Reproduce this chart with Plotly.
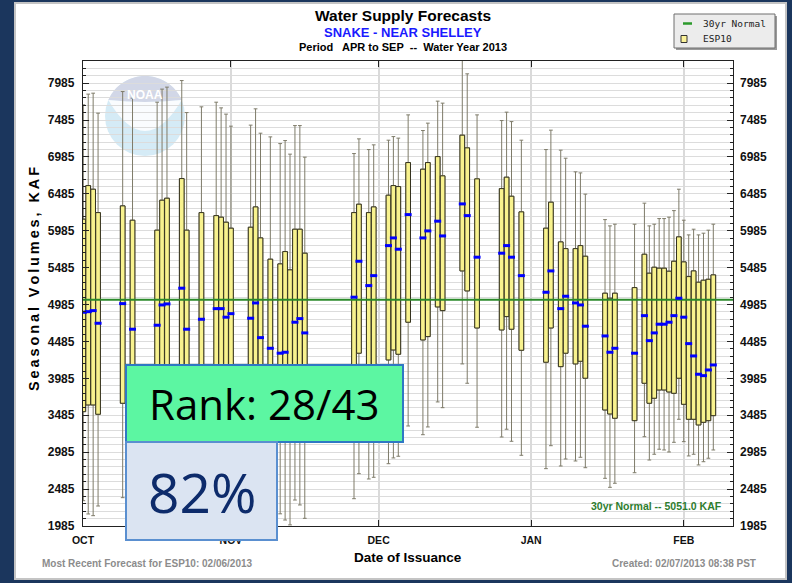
import math
import plotly.graph_objects as go

# ---------------------------------------------------------------
# ESP10 seasonal volume forecasts (APR-SEP, KAF) by issue date
# ---------------------------------------------------------------
issue_dates = [
    "2012-10-02", "2012-10-03", "2012-10-04", "2012-10-05", "2012-10-10", "2012-10-12",
    "2012-10-17", "2012-10-18", "2012-10-19", "2012-10-22", "2012-10-23", "2012-10-26",
    "2012-10-29", "2012-10-30", "2012-10-31",
    "2012-11-01", "2012-11-05", "2012-11-06", "2012-11-07", "2012-11-09", "2012-11-11",
    "2012-11-12", "2012-11-13", "2012-11-14", "2012-11-15", "2012-11-16", "2012-11-26",
    "2012-11-27", "2012-11-29", "2012-11-30",
    "2012-12-03", "2012-12-04", "2012-12-05", "2012-12-07", "2012-12-10", "2012-12-11",
    "2012-12-13", "2012-12-14", "2012-12-18", "2012-12-19", "2012-12-21", "2012-12-26",
    "2012-12-27", "2012-12-28", "2012-12-30",
    "2013-01-04", "2013-01-05", "2013-01-07", "2013-01-08", "2013-01-10", "2013-01-11",
    "2013-01-12", "2013-01-16", "2013-01-17", "2013-01-18", "2013-01-22", "2013-01-24",
    "2013-01-25", "2013-01-26", "2013-01-27", "2013-01-28", "2013-01-29", "2013-01-30",
    "2013-01-31",
    "2013-02-01", "2013-02-02", "2013-02-03", "2013-02-04", "2013-02-05", "2013-02-06",
    "2013-02-07",
]

esp_max = [
    7691, 7836, 7849, 7578, 7871, 7782, 7727, 7904, 7931, 8020, 7586, 7664, 7727, 7650, 7565,
    7402, 7416, 7637, 7307, 7257, 7166, 7207, 7023, 7410, 7410, 6982, 7031, 7230, 7085, 7149,
    7212, 7261, 7240, 7555, 7343, 7443, 7741, 7714, 8450, 8111, 7555, 7478, 7592, 7464, 7212,
    7085, 7348, 7077, 6968, 6783, 6769, 6481, 6136, 6051, 6074, 6074, 6359, 6051, 6074, 6150,
    6150, 6169, 6258, 6548,
    6128, 5929, 6006, 5929, 5952, 5993, 6074,
]

esp_q3 = [
    6142, 6597, 6548, 6231, 6322, 6128, 5993, 6399, 6426, 6692, 5993, 6231, 6190, 6169, 6101,
    6020, 6033, 6308, 5888, 5600, 5536, 5703, 5455, 6006, 6006, 5681, 6231, 6345, 6231, 6308,
    6467, 6597, 6584, 6909, 6819, 6909, 6990, 6729, 7280, 7108, 6688, 6556, 6711, 6453, 6241,
    6020, 6372, 5834, 5743, 5743, 5784, 5640, 5139, 5071, 5139, 5215, 5667, 5410, 5491, 5478,
    5478, 5437, 5572, 5902,
    5563, 5364, 5441, 5288, 5315, 5328, 5387,
]

esp_median = [
    4881, 4889, 4903, 4732, 4998, 4651, 4705, 4980, 4994, 5207, 4651, 4786, 4930, 4930, 4814,
    4862, 4800, 5007, 4537, 4393, 4326, 4339, 4120, 4746, 4795, 4601, 5085, 5572, 5242, 5377,
    5784, 5888, 5735, 6204, 5888, 5983, 6115, 5915, 6349, 6190, 5627, 5681, 5784, 5627, 5377,
    5152, 5441, 4930, 5098, 5007, 4980, 4692, 4560, 4339, 4393, 4326, 4835, 4496, 4601, 4719,
    4719, 4746, 4835, 5071,
    4814, 4456, 4289, 4041, 4022, 4099, 4167,
]

esp_q1 = [
    3534, 3625, 3625, 3499, 3648, 3490, 3450, 3640, 3660, 3830, 3420, 3550, 3600, 3590, 3530,
    3560, 3520, 3680, 3340, 3300, 3260, 3330, 3250, 3480, 3450, 3300, 4072, 4326, 4060, 4080,
    4235, 4370, 4312, 4746, 4506, 4551, 4953, 4903, 5441, 5170, 4668, 4641, 4822, 4651, 4366,
    4204, 4668, 4144, 4326, 4181, 4217, 3987, 3557, 3503, 3445, 3412, 3919, 3648, 3716, 3828,
    3828, 3801, 3783, 3987,
    3634, 3431, 3431, 3354, 3390, 3412, 3480,
]

esp_min = [
    2328, 2148, 2125, 2256, 2369, 2270, 2200, 2340, 2370, 2560, 2180, 2260, 2320, 2290, 2240,
    2270, 2220, 2380, 2160, 2120, 2150, 2066, 2000, 2337, 2270, 2089, 2355, 2694, 2622, 2645,
    2829, 2907, 2930, 3340, 3222, 3327, 3666, 3588, 4181, 3919, 3323, 3191, 3296, 3133, 2943,
    2762, 3073, 2798, 2893, 2866, 2916, 2775, 2631, 2509, 2564, 2707, 3195, 2879, 2957, 3025,
    3015, 2988, 3119, 3431,
    3128, 2934, 2957, 2812, 2856, 2903, 3015,
]

NORMAL_30YR = 5051.0          # KAF
RANK_TEXT = "Rank: 28/43"
PCT_TEXT = "82%"

X_START, X_END = "2012-10-01 22:30", "2013-02-11 00:00"
Y_MIN, Y_MAX = 1985, 8285
month_ticks = [X_START, "2012-11-01", "2012-12-01", "2013-01-01", "2013-02-01"]
month_labels = ["OCT", "NOV", "DEC", "JAN", "FEB"]

# ---------------------------------------------------------------
# page geometry (pixels) and helper to paper coordinates
# ---------------------------------------------------------------
W, H = 792, 583
L, R, T, B = 83, 733, 61, 526


def px(x, y):
    return (x - L) / (R - L), (B - y) / (B - T)


def rect(x0, y0, x1, y1, fill, line=None, lw=0, layer="above"):
    a0, b0 = px(x0, y0)
    a1, b1 = px(x1, y1)
    return dict(type="rect", xref="paper", yref="paper", x0=a0, y0=b1, x1=a1, y1=b0,
                fillcolor=fill, line=dict(color=line or fill, width=lw), layer=layer)


def path(points, tail="Z"):
    s = ""
    for i, (x, y) in enumerate(points):
        a, b = px(x, y)
        s += ("M" if i == 0 else "L") + f"{a:.5f},{b:.5f} "
    return s + tail


def text(x, y, s, size, color="#000", family="Liberation Sans", xa="center", ya="middle", angle=0):
    a, b = px(x, y)
    return dict(x=a, y=b, xref="paper", yref="paper", text=s, showarrow=False,
                xanchor=xa, yanchor=ya, textangle=angle,
                font=dict(family=family, size=size, color=color))


def spaced(s):
    # widen the tracking of a label with thin spaces between glyphs
    return "\u2009".join(s).replace("\u2009 \u2009", "\u2009\u00a0\u2009")


DAY_MS = 86400000
BOX_W = 0.95 * DAY_MS

fig = go.Figure()

# whiskers (min..max) in a soft grey-brown
fig.add_trace(go.Box(
    x=issue_dates, q1=esp_q1, median=esp_median, q3=esp_q3,
    lowerfence=esp_min, upperfence=esp_max,
    name="ESP10 range", boxpoints=False, width=BOX_W,
    fillcolor="#f8f28e", line=dict(color="#7e7b69", width=1),
    whiskerwidth=0.8, showlegend=False, hoverinfo="skip",
))

# yellow boxes with a dark outline drawn over the whiskers
fig.add_trace(go.Box(
    x=issue_dates, q1=esp_q1, median=esp_median, q3=esp_q3,
    lowerfence=esp_q1, upperfence=esp_q3,
    name="ESP10", boxpoints=False, width=BOX_W,
    fillcolor="#f8f28e", line=dict(color="#34321f", width=1),
    whiskerwidth=0, showlegend=False, hoverinfo="skip",
))

fig.add_trace(go.Scatter(
    x=[X_START, X_END], y=[NORMAL_30YR, NORMAL_30YR], mode="lines",
    name="30yr Normal", line=dict(color="#2b8a2b", width=2), showlegend=False,
    hoverinfo="skip",
))

fig.add_trace(go.Scatter(
    x=issue_dates, y=esp_median, mode="markers", showlegend=False, hoverinfo="skip",
    marker=dict(symbol="line-ew", size=5, color="#0000ff",
                line=dict(color="#0000ff", width=3)),
))

# carrier for the right-hand value axis
fig.add_trace(go.Scatter(
    x=[X_START], y=[NORMAL_30YR], yaxis="y2", mode="markers",
    marker=dict(opacity=0), showlegend=False, hoverinfo="skip",
))

axis_font = dict(family="Liberation Sans", size=12, color="#111", weight="bold")

fig.update_layout(
    width=W, height=H,
    margin=dict(l=L, r=W - R, t=T, b=H - B, pad=0),
    paper_bgcolor="#1b365d", plot_bgcolor="white",
    showlegend=False, boxmode="overlay",
    xaxis=dict(
        type="date", range=[X_START, X_END],
        tickvals=month_ticks, ticktext=month_labels,
        ticks="inside", ticklen=6, tickcolor="#222", tickwidth=1,
        showline=True, linecolor="#222", linewidth=1.3, mirror="ticks",
        showgrid=True, gridcolor="#dadada", gridwidth=1.5, zeroline=False,
        tickfont=dict(family="Liberation Sans", size=10.5, color="#111", weight="bold"),
        ticklabelstandoff=4,
    ),
    yaxis=dict(
        range=[Y_MIN, Y_MAX], tick0=1985, dtick=500,
        ticks="inside", ticklen=6, tickcolor="#222",
        showline=True, linecolor="#222", linewidth=1.3, mirror="ticks",
        showgrid=True, gridcolor="#dcdcdc", gridwidth=1, zeroline=False,
        minor=dict(tick0=1985, dtick=100, ticks="inside", ticklen=3, tickcolor="#222",
                   showgrid=True, gridcolor="#dcdcdc", gridwidth=1),
        tickfont=axis_font, ticklabelstandoff=5,
    ),
    yaxis2=dict(
        overlaying="y", side="right", range=[Y_MIN, Y_MAX], tick0=1985, dtick=500,
        showgrid=False, ticks="", showline=False, zeroline=False,
        tickfont=axis_font, ticklabelstandoff=6,
    ),
)

shapes = []
# white page panel
shapes.append(rect(15, 3, 786, 579, "white", "#c4c4c4", 2, layer="below"))

# faded NOAA emblem behind the grid
cx, cy, r = 145, 116, 40
a0, b0 = px(cx - r, cy - r)
a1, b1 = px(cx + r, cy + r)
shapes.append(dict(type="circle", xref="paper", yref="paper", x0=a0, y0=b1, x1=a1, y1=b0,
                   fillcolor="#d5ebf6", line=dict(width=0), layer="below"))
ang0, ang1 = math.radians(156.4), math.radians(23.6)
dome = [(cx + r * math.cos(ang0 + (ang1 - ang0) * i / 30),
         cy - r * math.sin(ang0 + (ang1 - ang0) * i / 30)) for i in range(31)]
qa, qb = px(145, 104)
la, lb = px(108.3, 100)
shapes.append(dict(type="path", xref="paper", yref="paper",
                   path=path(dome, tail="") + f"Q{qa:.5f},{qb:.5f} {la:.5f},{lb:.5f} Z",
                   fillcolor="#d2d7e7", line=dict(width=0), layer="below"))
ra, rb = px(181.7, 100)
qa2, qb2 = px(145, 162)
shapes.append(dict(type="path", xref="paper", yref="paper",
                   path=f"M{la:.5f},{lb:.5f} Q{qa2:.5f},{qb2:.5f} {ra:.5f},{rb:.5f} "
                        f"Q{qa:.5f},{qb:.5f} {la:.5f},{lb:.5f} Z",
                   fillcolor="#fafcfe", line=dict(width=0), layer="below"))

# rank / percent call-outs
shapes.append(rect(126, 365, 403, 442, "#5cf6a2", "#2f78c4", 2))
shapes.append(rect(126, 442, 277, 540, "#dbe4f2", "#5a8fd0", 2))

# legend box
shapes.append(rect(676, 16, 777, 50, "#9a9a9a", layer="above"))
shapes.append(rect(674, 14, 775, 48, "#ececec", "#6e6e6e", 1))
g0, gy = px(683, 23.5)
g1, _ = px(692, 23.5)
shapes.append(dict(type="line", xref="paper", yref="paper", x0=g0, y0=gy, x1=g1, y1=gy,
                   line=dict(color="#2b9a2b", width=2.5)))
shapes.append(rect(681, 35.5, 687, 42.5, "#fbf29a", "#333", 1))

fig.update_layout(shapes=shapes)

annotations = [
    text(403, 15, "<b>Water Supply Forecasts</b>", 15.5),
    text(403, 33, "<b>SNAKE - NEAR SHELLEY</b>", 13, color="#1a1aff"),
    text(403, 47, "<b>Period&nbsp;&nbsp; APR to SEP&nbsp; --&nbsp; Water Year 2013</b>", 11),
    text(34, 279, "<b>" + spaced("Seasonal Volumes, KAF") + "</b>", 14.5, angle=-90),
    text(408, 557, "<b>Date of Issuance</b>", 13.5),
    text(40, 563, "<b>Most Recent Forecast for ESP10: 02/06/2013</b>", 10,
         color="#8c8c8c", xa="left"),
    text(758, 563, "<b>Created: 02/07/2013 08:38 PST</b>", 10, color="#8c8c8c", xa="right"),
    text(724, 506, f"<b>30yr Normal -- {NORMAL_30YR:.1f} KAF</b>", 10.5,
         color="#2e7d2e", xa="right"),
    text(145, 95, "<b>NOAA</b>", 12, color="#ffffff"),
    text(701, 23.5, "30yr Normal", 9.5, color="#222", family="DejaVu Sans Mono", xa="left"),
    text(701, 39, "ESP10", 9.5, color="#222", family="DejaVu Sans Mono", xa="left"),
    text(264.5, 404, RANK_TEXT, 42, color="#000", family="Open Sans"),
    text(201.5, 491, PCT_TEXT, 55, color="#0d2b6b", family="Open Sans"),
]
fig.update_layout(annotations=annotations)

fig.write_html("out.html")
